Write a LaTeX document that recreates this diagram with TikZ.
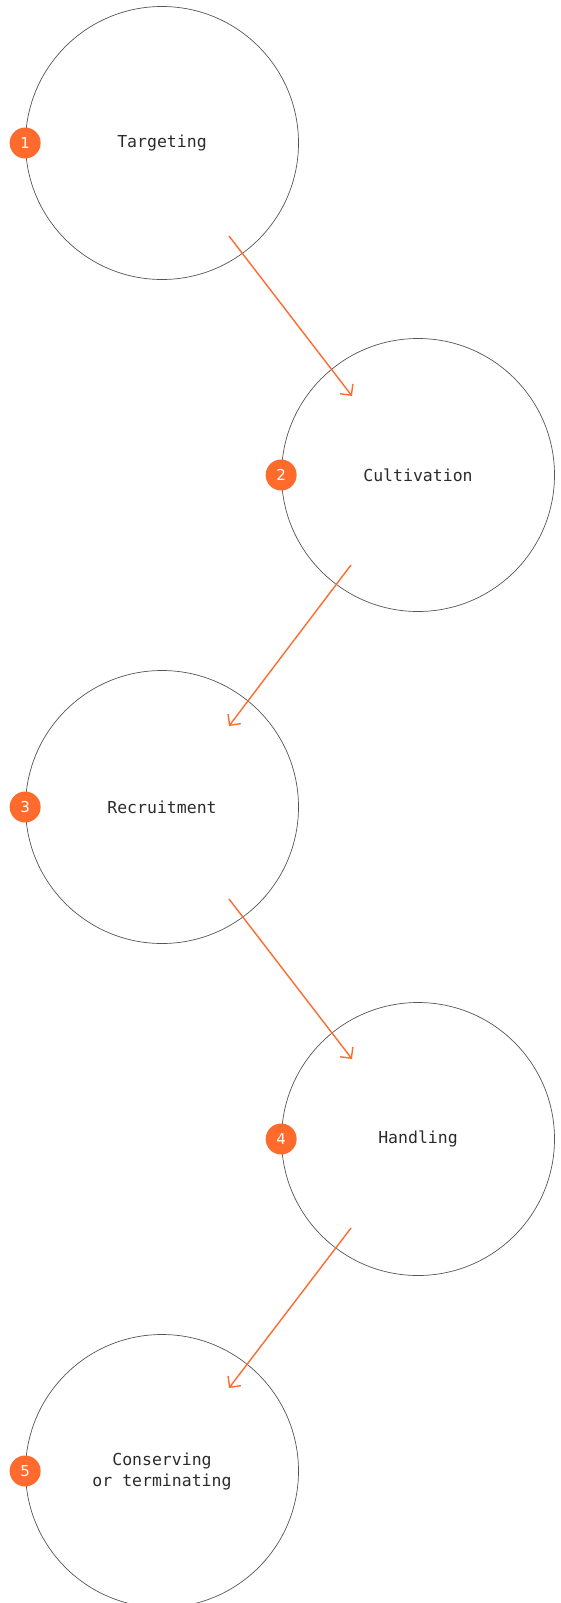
\documentclass[tikz,border=0pt]{standalone}
\usepackage{fontspec}
\newfontfamily\stagefont{DejaVu Sans Mono}
\newfontfamily\badgefont{DejaVu Sans}
\usetikzlibrary{arrows.meta}
\definecolor{accent}{HTML}{FF6B2C}
\definecolor{ring}{HTML}{555555}
\definecolor{ink}{HTML}{2B2B2B}

\begin{document}
\begin{tikzpicture}[x=1pt, y=-1pt,
        stage/.style={circle, draw=ring, line width=0.7pt, minimum size=273pt, inner sep=0pt, align=center, text=ink, font=\stagefont\fontsize{16.5}{21}\selectfont},
        badge/.style={circle, fill=accent, minimum size=31pt, inner sep=0pt, text=white, font=\badgefont\fontsize{15}{15}\selectfont},
        flow/.style={draw=accent, line width=1.4pt, -{Straight Barb[length=8pt,width=16pt]}},
    ]
    % Column x-positions
    \def\cL{162}  % left column
    \def\cR{418}  % right column

    \useasboundingbox (0,0) rectangle (560,1603);

    % ===== Stages =====
    \node[stage] (targeting)   at (\cL, 143)  {Targeting};
    \node[stage] (cultivation) at (\cR, 475)  {Cultivation};
    \node[stage] (recruitment) at (\cL, 807)  {Recruitment};
    \node[stage] (handling)    at (\cR, 1139) {Handling};
    \node[stage] (conserving)  at (\cL, 1471) {Conserving\\or terminating};

    % ===== Step numbers =====
    \node[badge] (n1) at (targeting.west)   {1};
    \node[badge] (n2) at (cultivation.west) {2};
    \node[badge] (n3) at (recruitment.west) {3};
    \node[badge] (n4) at (handling.west)    {4};
    \node[badge] (n5) at (conserving.west)  {5};

    % ===== Arrow ends (inside the circles) =====
    \coordinate (t-out) at (229, 236);   \coordinate (c-in)  at (352, 396);
    \coordinate (c-out) at (351, 565);   \coordinate (r-in)  at (229, 726);
    \coordinate (r-out) at (229, 899);   \coordinate (h-in)  at (352, 1059);
    \coordinate (h-out) at (351, 1228);  \coordinate (k-in)  at (229, 1388);

    % ===== Flow =====
    \draw[flow] (t-out) -- (c-in);
    \draw[flow] (c-out) -- (r-in);
    \draw[flow] (r-out) -- (h-in);
    \draw[flow] (h-out) -- (k-in);

    \end{tikzpicture}
\end{document}
